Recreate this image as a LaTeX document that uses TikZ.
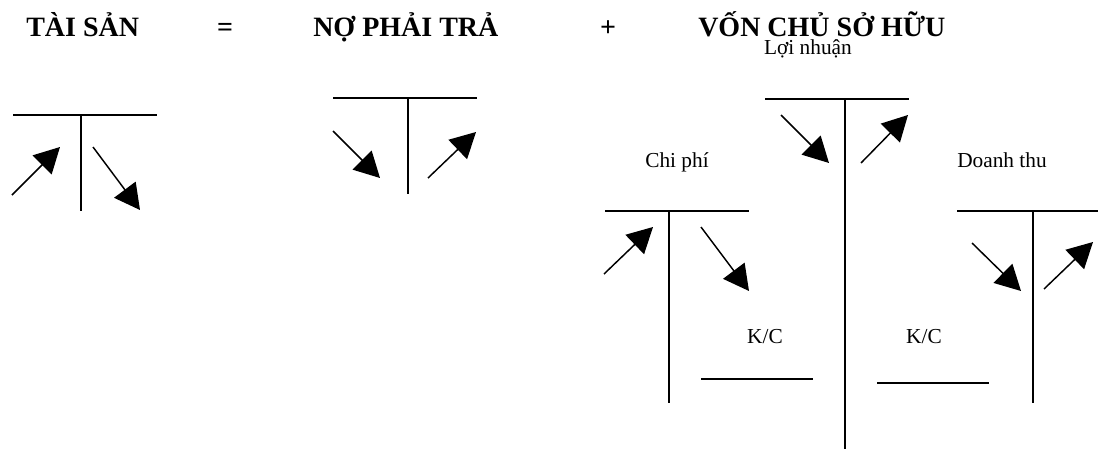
\documentclass[tikz,border=0pt]{standalone}
\usepackage{fontspec}
\setmainfont{Liberation Serif}
\usetikzlibrary{arrows.meta,positioning}

\begin{document}
\begin{tikzpicture}[x=0.75pt,y=-0.75pt,
	tacc/.style={line width=1.5pt},
	flow/.style={line width=1.1pt,-{Triangle[length=19pt,width=20pt]}},
	title/.style={font=\bfseries\fontsize{21}{25}\selectfont,inner sep=0pt},
	lbl/.style={font=\fontsize{16}{19}\selectfont,inner sep=0pt,anchor=base}]
	\useasboundingbox (0,0) rectangle (1098,449);
	% equation
	\node[title,anchor=base west] (ts) at (26,37) {TÀI SẢN};
	\node[title,anchor=base] (eq) at (225,37) {=};
	\node[title,anchor=base west] (npt) at (313,37) {NỢ PHẢI TRẢ};
	\node[title,anchor=base] (plus) at (608,37) {+};
	\node[title,anchor=base west] (vcsh) at (698,37) {VỐN CHỦ SỞ HỮU};
	% labels
	\node[lbl] (ln) at (808,55) {Lợi nhuận};
	\node[lbl] (cp) at (677,167) {Chi phí};
	\node[lbl] (dt) at (1002,167) {Doanh thu};
	\node[lbl] (kc1) at (765,343) {K/C};
	\node[lbl] (kc2) at (924,343) {K/C};
	% tai san
	\draw[tacc] (13,115) -- (157,115) (81,115) -- (81,211);
	\draw[flow] (12,195) -- (60,147);
	\draw[flow] (93,147) -- (140,210);
	% no phai tra
	\draw[tacc] (333,98) -- (477,98) (408,98) -- (408,194);
	\draw[flow] (333,131) -- (380,178);
	\draw[flow] (428,178) -- (476,132);
	% loi nhuan
	\draw[tacc] (765,99) -- (909,99) (845,99) -- (845,449);
	\draw[flow] (781,115) -- (829,163);
	\draw[flow] (861,163) -- (908,115);
	% chi phi
	\draw[tacc] (605,211) -- (749,211) (669,211) -- (669,403);
	\draw[flow] (604,274) -- (653,227);
	\draw[flow] (701,227) -- (749,291);
	\draw[tacc] (701,379) -- (813,379);
	% doanh thu
	\draw[tacc] (957,211) -- (1098,211) (1033,211) -- (1033,403);
	\draw[flow] (972,243) -- (1021,291);
	\draw[flow] (1044,289) -- (1093,242);
	\draw[tacc] (877,383) -- (989,383);
\end{tikzpicture}
\end{document}
